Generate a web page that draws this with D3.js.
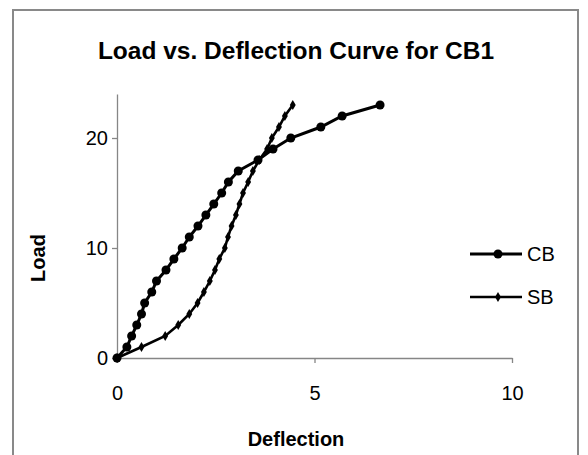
<!DOCTYPE html>
<html>
<head>
<meta charset="utf-8">
<script src="https://cdn.jsdelivr.net/npm/d3@7"></script>
<style>
  body { margin: 0; background: #fff; }
  svg { display: block; font-family: Arial, "Liberation Sans", sans-serif; }
</style>
</head>
<body>
<div class="chartHolder"></div>
<script>
// Data
let cbDeflection = [0, 0.25, 0.37, 0.5, 0.62, 0.7, 0.88, 1.0, 1.24, 1.44, 1.65, 1.83, 2.05, 2.25, 2.45, 2.65, 2.82, 3.07, 3.57, 3.95, 4.4, 5.16, 5.7, 6.66];
let cbLoad = [0, 1, 2, 3, 4, 5, 6, 7, 8, 9, 10, 11, 12, 13, 14, 15, 16, 17, 18, 19, 20, 21, 22, 23];
let sbDeflection = [0, 0.62, 1.22, 1.55, 1.83, 2.04, 2.2, 2.35, 2.48, 2.59, 2.73, 2.81, 2.9, 3.01, 3.1, 3.19, 3.32, 3.44, 3.6, 3.8, 3.92, 4.1, 4.25, 4.45];
let sbLoad = [0, 1, 2, 3, 4, 5, 6, 7, 8, 9, 10, 11, 12, 13, 14, 15, 16, 17, 18, 19, 20, 21, 22, 23];
let xTicks = [0, 5, 10];
let yTicks = [0, 10, 20];
let seriesNames = ["CB", "SB"];

let width = 588,
  height = 455;

let svgChart = d3
  .select(".chartHolder")
  .append("svg")
  .attr("width", width)
  .attr("height", height);

// outer frame (bottom edge is cut off in the picture)
svgChart
  .append("path")
  .attr("d", "M13,455 V10 H578 V455")
  .attr("fill", "none")
  .attr("stroke", "#898989")
  .attr("stroke-width", 2);

// scales
let xScale = d3.scaleLinear().domain([0, 10]).range([117, 512]);
let yScale = d3.scaleLinear().domain([0, 24]).range([358, 94]);

// x axis
let xAxis = d3.axisBottom(xScale).tickValues(xTicks).tickSize(5).tickPadding(23).tickSizeOuter(0);
let xAxisGroup = svgChart
  .append("g")
  .attr("transform", "translate(0," + yScale(0) + ")")
  .call(xAxis);

// y axis
let yAxis = d3.axisLeft(yScale).tickValues(yTicks).tickSize(5).tickPadding(4).tickSizeOuter(0);
let yAxisGroup = svgChart
  .append("g")
  .attr("transform", "translate(" + xScale(0) + ",0)")
  .call(yAxis);

[xAxisGroup, yAxisGroup].forEach((g) => {
  g.selectAll("path, line").attr("stroke", "#868686").attr("stroke-width", 1.3);
  g.selectAll("text").attr("fill", "#000").style("font-size", "20px");
});

// titles
svgChart
  .append("text")
  .attr("x", 296)
  .attr("y", 59)
  .attr("text-anchor", "middle")
  .style("font-size", "24.5px")
  .style("font-weight", "bold")
  .text("Load vs. Deflection Curve for CB1");

svgChart
  .append("text")
  .attr("x", 296)
  .attr("y", 446)
  .attr("text-anchor", "middle")
  .style("font-size", "20px")
  .style("font-weight", "bold")
  .text("Deflection");

svgChart
  .append("text")
  .attr("transform", "translate(45,258) rotate(-90)")
  .attr("text-anchor", "middle")
  .style("font-size", "20px")
  .style("font-weight", "bold")
  .text("Load");

// lines
let line = d3
  .line()
  .x((d) => xScale(d[0]))
  .y((d) => yScale(d[1]));

let cbData = cbDeflection.map((d, i) => [d, cbLoad[i]]);
let sbData = sbDeflection.map((d, i) => [d, sbLoad[i]]);

let diamond = d3.symbol().type(d3.symbolDiamond).size(30);

svgChart
  .append("path")
  .datum(sbData)
  .attr("d", line)
  .attr("fill", "none")
  .attr("stroke", "#000")
  .attr("stroke-width", 2.6);

svgChart
  .selectAll(".sb")
  .data(sbData)
  .enter()
  .append("path")
  .attr("class", "sb")
  .attr("d", diamond)
  .attr("transform", (d) => "translate(" + xScale(d[0]) + "," + yScale(d[1]) + ")")
  .attr("fill", "#000");

svgChart
  .append("path")
  .datum(cbData)
  .attr("d", line)
  .attr("fill", "none")
  .attr("stroke", "#000")
  .attr("stroke-width", 3);

svgChart
  .selectAll(".cb")
  .data(cbData)
  .enter()
  .append("circle")
  .attr("class", "cb")
  .attr("cx", (d) => xScale(d[0]))
  .attr("cy", (d) => yScale(d[1]))
  .attr("r", 4.5)
  .attr("fill", "#000");

// legend
let legend = svgChart
  .selectAll(".legend")
  .data(seriesNames)
  .enter()
  .append("g")
  .attr("class", "legend")
  .attr("transform", (d, i) => "translate(470," + (254 + i * 43) + ")");

legend
  .append("line")
  .attr("x1", 0)
  .attr("x2", 52)
  .attr("stroke", "#000")
  .attr("stroke-width", (d, i) => (i === 0 ? 3 : 2.6));

legend.each(function(d, i) {
  let g = d3.select(this);
  if (i === 0) {
    g.append("circle").attr("cx", 28).attr("r", 4.5).attr("fill", "#000");
  } else {
    g.append("path").attr("d", diamond).attr("transform", "translate(28,0)").attr("fill", "#000");
  }
});

legend
  .append("text")
  .attr("x", 57)
  .attr("y", 7)
  .style("font-size", "20px")
  .text((d) => d);
</script>
</body>
</html>
